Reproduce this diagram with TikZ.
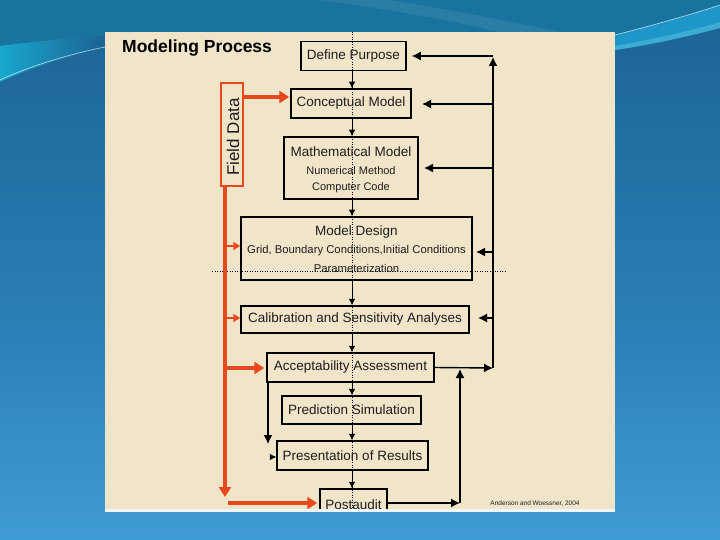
\documentclass[tikz,border=0pt]{standalone}
\usepackage{fontspec}
\setmainfont{Liberation Sans}
\usetikzlibrary{arrows.meta}
\definecolor{beige}{RGB}{240,228,201}
\definecolor{fred}{RGB}{232,72,30}
\definecolor{teal1}{RGB}{24,116,158}
\definecolor{dblue}{RGB}{28,98,148}
\definecolor{bgmid}{RGB}{42,128,182}
\definecolor{bgbot}{RGB}{64,156,212}
\definecolor{cyanl}{RGB}{24,168,204}
\definecolor{cyanr}{RGB}{30,150,202}
\definecolor{txt}{RGB}{30,30,30}
\tikzset{
  box/.style={draw=black, line width=1.5pt, inner sep=0pt, text=txt, font=\fontsize{13.5}{15}\selectfont},
  sub/.style={inner sep=0pt, text=txt, font=\fontsize{11}{13}\selectfont},
  tiny/.style={inner sep=0pt, text=txt, font=\fontsize{11.3}{13}\selectfont},
  barr/.style={draw=black, line width=1.4pt, -{Latex[length=9pt,width=9pt]}},
  darr/.style={draw=black, line width=0.7pt, -{Latex[length=6.5pt,width=6.5pt]}},
  rarr/.style={draw=fred, line width=3.8pt, -{Triangle[length=10pt,width=12pt]}},
  rthin/.style={draw=fred, line width=2pt, -{Triangle[length=7pt,width=8pt]}},
}
\begin{document}
\begin{tikzpicture}[x=1pt,y=-1pt]
\useasboundingbox (0,0) rectangle (720,540);
% background
\shade[top color=dblue, bottom color=bgmid] (0,0) rectangle (720,330);
\shade[top color=bgmid, bottom color=bgbot] (0,330) rectangle (720,540);
\fill[teal1] (0,0) -- (720,0) -- (720,28) .. controls (690,36) and (650,45) .. (615,50) -- (105,48) .. controls (70,55) and (30,68) .. (0,82) -- cycle;
% left cyan band
\shade[left color=cyanl, right color=dblue, shading angle=90] (0,82) .. controls (30,68) and (70,55) .. (105,48) -- (105,36) .. controls (70,38) and (30,42) .. (0,46) -- cycle;
\draw[white, opacity=0.7, line width=0.6pt] (0,80) .. controls (30,66) and (70,54) .. (105,47);
% right cyan band
\fill[cyanr] (615,50) .. controls (650,45) and (690,36) .. (720,28) -- (720,5) .. controls (690,15) and (650,26) .. (615,35) -- cycle;
\fill[cyanl!70!white, opacity=0.5] (615,50) .. controls (650,45) and (690,36) .. (720,28) -- (720,22) .. controls (690,31) and (650,40) .. (615,46) -- cycle;
\draw[white, opacity=0.7, line width=0.6pt] (615,35) .. controls (650,26) and (690,15) .. (720,5);
% subtle top streak
\fill[white, opacity=0.08] (320,0) .. controls (380,8) and (440,18) .. (500,32) -- (560,32) .. controls (480,15) and (420,5) .. (390,0) -- cycle;
% panel
\fill[beige] (105,32) rectangle (615,509);
\begin{scope}
\clip (105,32) rectangle (615,509);
% guide lines
\draw[black, line width=0.5pt, dotted] (352,32) -- (352,509);
\draw[black, line width=0.5pt, dotted] (212,271) -- (505,271);
% title
\node[anchor=west, inner sep=0pt, text=black, font=\bfseries\fontsize{17.5}{20}\selectfont] (title) at (122,48) {Modeling Process};
% boxes
\node[box, minimum width=105pt, minimum height=29pt] (purpose) at (353.5,56) {Define Purpose};
\node[box, minimum width=120pt, minimum height=29pt] (concept) at (351,103.5) {Conceptual Model};
\node[box, minimum width=134pt, minimum height=62pt] (math) at (351,168) {};
\node[inner sep=0pt, text=txt, font=\fontsize{13.5}{15}\selectfont] (mathA) at (351,152) {Mathematical Model};
\node[sub] (mathB) at (351,171) {Numerical Method};
\node[sub] (mathC) at (351,188) {Computer Code};
\node[box, minimum width=231pt, minimum height=63pt] (design) at (356.5,248.5) {};
\node[inner sep=0pt, text=txt, font=\fontsize{13.5}{15}\selectfont] (designA) at (356.5,232) {Model Design};
\node[tiny] (designB) at (356.5,251) {Grid, Boundary Conditions,Initial Conditions};
\node[tiny] (designC) at (356.5,268) {Parameterization};
\node[box, minimum width=228pt, minimum height=27pt] (calib) at (355,319.5) {Calibration and Sensitivity Analyses};
\node[box, minimum width=167pt, minimum height=29pt] (accept) at (350.5,367.5) {Acceptability Assessment};
\node[box, minimum width=139pt, minimum height=28pt] (predict) at (351.5,410) {Prediction Simulation};
\node[box, minimum width=151pt, minimum height=29pt] (present) at (352.5,455.5) {Presentation of Results};
\node[box, minimum width=67pt, minimum height=32pt] (post) at (353.5,505) {Postaudit};
% field data
\node[draw=fred, line width=2.6pt, minimum width=22pt, minimum height=103pt, inner sep=0pt] (field) at (232,134.5) {};
\node[rotate=90, inner sep=0pt, text=txt, font=\fontsize{17}{19}\selectfont] (fieldT) at (233,137) {Field Data};
% chain arrows
\draw[darr] (purpose.south -| 352,0) -- (concept.north -| 352,0);
\draw[darr] (concept.south -| 352,0) -- (math.north -| 352,0);
\draw[darr] (math.south -| 352,0) -- (design.north -| 352,0);
\draw[darr] (design.south -| 352,0) -- (calib.north -| 352,0);
\draw[darr] (calib.south -| 352,0) -- (accept.north -| 352,0);
\draw[darr] (accept.south -| 352,0) -- (predict.north -| 352,0);
\draw[darr] (predict.south -| 352,0) -- (present.north -| 352,0);
\draw[darr] (present.south -| 352,0) -- (post.north -| 352,0);
% feedback loop
\coordinate (fbB) at (493,368);
\coordinate (fbT) at (493,56);
\draw[barr] (accept.east) -- (fbB);
\draw[barr] (fbB) -- (493,57);
\draw[barr] (fbT) -- ([xshift=5pt]purpose.east);
\draw[barr] (493,104) -- (422,104);
\draw[barr] (493,168) -- (424,168);
\draw[barr] (493,252) -- (476,252);
\draw[barr] (493,318) -- (478,318);
\coordinate (pa) at (460,503);
\draw[barr] (post.east |- pa) -- (pa);
\draw[barr] (pa) -- (460,369);
\coordinate (al) at (268,444);
\draw[barr] (accept.south west -| al) -- (al);
\draw[darr] (270,457) -- (present.west |- 0,457);
% red arrows
\coordinate (rtop) at (225,186);
\coordinate (rbot) at (225,497);
\draw[rarr] (field.east |- 0,97) -- ([xshift=-1pt]concept.west |- 0,97);
\draw[rarr] (rtop) -- (rbot);
\draw[rarr] (228,503) -- ([xshift=-2pt]post.west |- 0,503);
\draw[rthin] (225,246) -- (design.west |- 0,246);
\draw[rthin] (225,318) -- (calib.west |- 0,318);
\draw[rarr] (225,368) -- ([xshift=-2pt]accept.west |- 0,368);
% credit
\node[inner sep=0pt, text=txt, font=\fontsize{6.5}{8}\selectfont] (credit) at (535,504) {Anderson and Woessner, 2004};
\end{scope}
\fill[white!92!bgbot] (105,509) rectangle (615,512);
\end{tikzpicture}
\end{document}
